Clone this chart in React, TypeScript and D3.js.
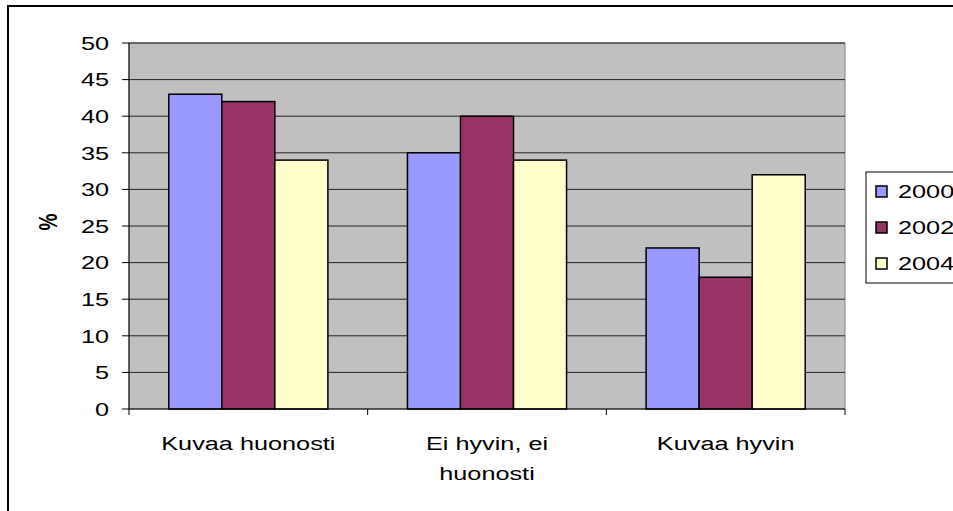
import React from "react";
import * as d3 from "d3";

const categories: string[][] = [["Kuvaa huonosti"], ["Ei hyvin, ei", "huonosti"], ["Kuvaa hyvin"]];
const seriesNames = ["2000", "2002", "2004"];
const values2000 = [43, 35, 22];
const values2002 = [42, 40, 18];
const values2004 = [34, 34, 32];
const seriesColors = ["#9999FF", "#993366", "#FFFFCC"];
const yTicks = [0, 5, 10, 15, 20, 25, 30, 35, 40, 45, 50];

const W = 953, H = 511;
const plot = { left: 129, right: 845, top: 43, bottom: 409 };
const SX = 1.33;
const FS = 19;

function T(props: { x: number; y: number; anchor?: string; bold?: boolean; rotate?: boolean; dy?: string; children: React.ReactNode }) {
  const { x, y, anchor = "start", bold, rotate, dy, children } = props;
  return (
    <text
      transform={`translate(${x},${y}) scale(${SX},1)${rotate ? " rotate(-90)" : ""}`}
      textAnchor={anchor}
      fontSize={FS}
      fontWeight={bold ? "bold" : "normal"}
      dy={dy}
      fill="#000"
    >
      {children}
    </text>
  );
}

export default function App() {
  const series = [values2000, values2002, values2004];
  const x0 = d3.scaleBand<number>().domain([0, 1, 2]).range([plot.left, plot.right]).paddingInner(0).paddingOuter(0);
  const x1 = d3.scaleBand<number>().domain([0, 1, 2]).range([0, x0.bandwidth()]).paddingInner(0).paddingOuter(0.75);
  const y = d3.scaleLinear().domain([0, 50]).range([plot.bottom, plot.top]);
  const font = "Liberation Sans, Arial, sans-serif";
  return (
    <svg width={W} height={H} style={{ position: "absolute", left: 0, top: 0, background: "#fff" }} fontFamily={font}>
      <rect x={8} y={6} width={W + 10} height={H + 10} fill="#fff" stroke="#000" strokeWidth={2} />
      <rect x={plot.left} y={plot.top} width={plot.right - plot.left} height={plot.bottom - plot.top} fill="#C0C0C0" stroke="#808080" strokeWidth={1} />
      {yTicks.map((t) => (
        <g key={t}>
          {t > 0 && <line x1={plot.left} x2={plot.right} y1={y(t)} y2={y(t)} stroke="#222" strokeWidth={1} />}
          <line x1={plot.left - 7} x2={plot.left} y1={y(t)} y2={y(t)} stroke="#000" strokeWidth={1} />
          <T x={109} y={y(t)} anchor="end" dy="0.36em">{t}</T>
        </g>
      ))}
      <line x1={plot.left} x2={plot.left} y1={plot.top} y2={plot.bottom} stroke="#000" strokeWidth={1} />
      {series.map((vals, si) =>
        vals.map((v, ci) => (
          <rect key={`${si}-${ci}`} x={(x0(ci) as number) + (x1(si) as number)} y={y(v)} width={x1.bandwidth()} height={y(0) - y(v)} fill={seriesColors[si]} stroke="#000" strokeWidth={1.5} />
        ))
      )}
      <line x1={plot.left} x2={plot.right} y1={plot.bottom} y2={plot.bottom} stroke="#000" strokeWidth={1} />
      {[0, 1, 2, 3].map((i) => {
        const xx = plot.left + i * x0.step();
        return <line key={i} x1={xx} x2={xx} y1={plot.bottom} y2={plot.bottom + 6} stroke="#000" strokeWidth={1} />;
      })}
      {categories.map((lines, ci) =>
        lines.map((l, li) => (
          <T key={`${ci}-${li}`} x={(x0(ci) as number) + x0.bandwidth() / 2} y={450 + li * 30} anchor="middle">{l}</T>
        ))
      )}
      <T x={57} y={222} anchor="middle" bold rotate>%</T>
      <rect x={866} y={172} width={100} height={111} fill="#fff" stroke="#000" strokeWidth={1} />
      {seriesNames.map((n, i) => (
        <g key={n}>
          <rect x={876} y={186 + i * 36} width={11} height={11} fill={seriesColors[i]} stroke="#000" strokeWidth={1.5} />
          <T x={898} y={198 + i * 36}>{n}</T>
        </g>
      ))}
    </svg>
  );
}
